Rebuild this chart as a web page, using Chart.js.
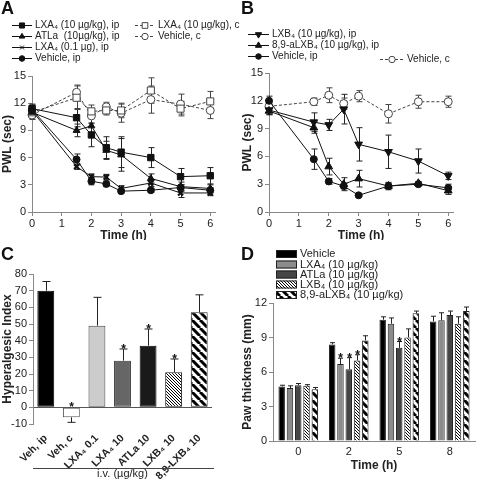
<!DOCTYPE html>
<html lang="en">
<head>
  <meta charset="UTF-8">
  <title>Lipoxins – hyperalgesia and paw edema</title>
  <script src="https://cdn.jsdelivr.net/npm/chart.js"></script>
  <style>
    body { margin: 0; width: 480px; height: 480px; position: relative; overflow: hidden; background: #fff;
           font-family: "Liberation Sans", Arial, sans-serif; }
    canvas { position: absolute; }
    .letra { position: absolute; font-weight: bold; font-size: 18px; color: #111; }
  </style>
</head>
<body>
  <canvas id="chartA" width="240" height="240" style="left:0;top:0"></canvas>
  <canvas id="chartB" width="240" height="240" style="left:240px;top:0"></canvas>
  <canvas id="chartC" width="240" height="240" style="left:0;top:240px"></canvas>
  <canvas id="chartD" width="240" height="240" style="left:240px;top:240px"></canvas>
  <div class="letra" style="left:1px;top:-2px">A</div>
  <div class="letra" style="left:241px;top:-2px">B</div>
  <div class="letra" style="left:1px;top:244px">C</div>
  <div class="letra" style="left:241px;top:244px">D</div>

  <script>
    // ---- datos ----
    const horas = [0, 1.5, 2, 2.5, 3, 4, 5, 6];
    const ticksTiempo = [0, 1, 2, 3, 4, 5, 6];
    const ticksPWL = [0, 3, 6, 9, 12, 15];

    // Panel A
    const aLxa4Ip      = [11.4, 10.4, 8.5, 7.1, 6.6, 6.0, 3.9, 4.0];
    const aLxa4IpErr   = [0.5, 1.0, 1.3, 1.2, 1.7, 1.1, 0.9, 0.9];
    const aAtlaIp      = [11.0, 9.0, 9.5, 6.8, 6.3, 3.7, 2.8, 2.6];
    const aAtlaIpErr   = [0.6, 0.7, 1.0, 1.0, 1.8, 0.5, 0.5, 0.4];
    const aLxa4Low     = [11.2, 5.0, 3.9, 3.85, 2.6, 3.2, 2.1, 2.1];
    const aLxa4LowErr  = [0.5, 0.3, 0.3, 0.3, 0.3, 0.4, 0.5, 0.3];
    const aVehIp       = [11.3, 5.8, 3.4, 3.1, 2.3, 2.4, 2.7, 2.4];
    const aVehIpErr    = [0.5, 0.6, 0.4, 0.3, 0.2, 0.2, 0.3, 0.3];
    const aLxa4C       = [11.0, 12.6, 11.1, 11.2, 11.2, 13.4, 11.4, 12.2];
    const aLxa4CErr    = [0.6, 1.3, 0.7, 0.5, 0.8, 1.4, 0.8, 1.1];
    const aVehC        = [10.7, 13.2, 10.6, 11.6, 10.9, 12.4, 11.9, 11.2];
    const aVehCErr     = [0.5, 0.8, 0.8, 0.5, 1.0, 1.5, 1.1, 0.9];

    // Panel B
    const bLxb4Ip      = [11.0, 9.7, 9.4, 11.1, 7.3, 6.5, 5.5, 3.9];
    const bLxb4IpErr   = [0.5, 1.0, 0.6, 1.6, 1.8, 1.8, 1.3, 0.4];
    const bAlxb4Ip     = [10.9, 9.1, 4.9, 3.0, 3.6, 2.8, 3.1, 2.3];
    const bAlxb4IpErr  = [0.4, 0.6, 0.9, 0.7, 0.9, 0.4, 0.2, 0.4];
    const bVehIp       = [12.0, 5.7, 3.3, 2.8, 1.8, 2.8, 3.0, 2.6];
    const bVehIpErr    = [0.5, 1.1, 0.3, 0.3, 0.1, 0.3, 0.2, 0.4];
    const bVehC        = [11.4, 11.9, 12.6, 11.7, 12.5, 10.6, 11.9, 11.9];
    const bVehCErr     = [0.4, 0.4, 0.8, 0.6, 0.6, 1.0, 0.7, 0.6];

    // Panel C
    const gruposC   = ['Veh, ip', 'Veh, c', 'LXA₄ 0.1', 'LXA₄ 10', 'ATLa 10', 'LXB₄ 10', '8,9-LXB₄ 10'];
    const indiceC   = [70, -6, 49, 28, 37, 21, 57];
    const indiceErr = [5.5, 3, 17, 7, 10, 8, 10.5];
    const signifC   = [false, true, false, true, true, true, false];
    const ticksIndice = [-10, 0, 10, 20, 30, 40, 50, 60, 70, 80];

    // Panel D
    const tiemposD  = ['0', '2', '5', '8'];
    const dVeh      = [4.75, 8.4, 10.55, 10.4];
    const dVehErr   = [0.1, 0.15, 0.25, 0.45];
    const dLxa4     = [4.6, 6.7, 10.2, 10.5];
    const dLxa4Err  = [0.2, 0.5, 0.5, 0.65];
    const dAtla     = [4.85, 6.25, 8.1, 10.95];
    const dAtlaErr  = [0.15, 1.0, 0.55, 0.35];
    const dLxb4     = [4.8, 7.0, 9.0, 10.2];
    const dLxb4Err  = [0.1, 0.5, 0.75, 0.6];
    const dAlxb4    = [4.5, 8.75, 11.1, 11.3];
    const dAlxb4Err = [0.15, 0.4, 0.2, 0.35];
    const signifLxa4 = [false, true, false, false];
    const signifAtla = [false, true, true, false];
    const signifLxb4 = [false, true, false, false];
    const ticksPata = [0, 3, 6, 9, 12];

    Chart.defaults.font.family = '"Liberation Sans", Arial, sans-serif';
    Chart.defaults.font.size = 11;
    Chart.defaults.color = '#222';
    Chart.defaults.animation = false;

    const gris = '#888';

    // rayado diagonal "\\\\" para las barras
    function rayado(paso, grosor) {
      const c = document.createElement('canvas');
      c.width = c.height = paso;
      const g = c.getContext('2d');
      g.fillStyle = '#fff';
      g.fillRect(0, 0, paso, paso);
      g.strokeStyle = '#000';
      g.lineWidth = grosor;
      g.beginPath();
      for (const k of [-1, 0, 1]) {
        g.moveTo(k * paso, 0);
        g.lineTo(k * paso + paso, paso);
      }
      g.stroke();
      return g.createPattern(c, 'repeat');
    }
    const rayaFina = rayado(3, 1);
    const rayaGruesa = rayado(8, 3);

    // barras de error y asteriscos
    function dibujarErrores(chart, tipo) {
      const ctx = chart.ctx;
      const cap = chart.options.plugins.barrasError.cap;
      chart.data.datasets.forEach((ds, i) => {
        if (!ds.errores) return;
        const meta = chart.getDatasetMeta(i);
        if (meta.type !== tipo) return;
        const ys = chart.scales[meta.yAxisID];
        ctx.save();
        ctx.strokeStyle = ds.colorError || '#222';
        ctx.lineWidth = 1;
        meta.data.forEach((el, j) => {
          const e = ds.errores[j];
          const raw = ds.data[j];
          const v = typeof raw === 'object' ? raw.y : raw;
          const px = Math.round(el.x) + 0.5;
          let a, b;
          if (tipo === 'bar') {
            a = ys.getPixelForValue(v);
            b = ys.getPixelForValue(v >= 0 ? v + e : v - e);
          } else {
            a = ys.getPixelForValue(v - e);
            b = ys.getPixelForValue(v + e);
          }
          ctx.beginPath();
          ctx.moveTo(px, a); ctx.lineTo(px, b);
          if (tipo === 'line') { ctx.moveTo(px - cap, a); ctx.lineTo(px + cap, a); }
          ctx.moveTo(px - cap, b); ctx.lineTo(px + cap, b);
          ctx.stroke();
          if (ds.signif && ds.signif[j]) {
            const arriba = ys.getPixelForValue(Math.max(v >= 0 ? v + e : 0, 0));
            ctx.fillStyle = '#111';
            ctx.font = 'bold 12px "Liberation Sans", Arial, sans-serif';
            ctx.textAlign = 'center';
            ctx.textBaseline = 'alphabetic';
            ctx.fillText('*', px, arriba + 4);
          }
        });
        ctx.restore();
      });
    }
    const barrasError = {
      id: 'barrasError',
      beforeDatasetsDraw(chart) { dibujarErrores(chart, 'line'); },
      afterDatasetsDraw(chart) { dibujarErrores(chart, 'bar'); }
    };

    // leyenda propia: línea + marcador, o caja
    const leyenda = {
      id: 'leyenda',
      afterDraw(chart, args, opts) {
        if (!opts.items) return;
        const ctx = chart.ctx;
        ctx.save();
        ctx.font = (opts.tam || 11) + 'px "Liberation Sans", Arial, sans-serif';
        ctx.textBaseline = 'middle';
        opts.items.forEach(it => {
          const ds = chart.data.datasets[it.ds];
          if (opts.tipo === 'caja') {
            ctx.fillStyle = ds.backgroundColor;
            ctx.fillRect(it.x, it.y - 4, 21, 8);
            ctx.strokeStyle = '#222';
            ctx.lineWidth = 1;
            ctx.strokeRect(it.x + 0.5, it.y - 3.5, 20, 7);
            ctx.fillStyle = '#222';
            ctx.fillText(ds.label, it.x + 24, it.y);
          } else {
            ctx.strokeStyle = ds.borderColor;
            ctx.lineWidth = 1;
            ctx.setLineDash(ds.borderDash || []);
            ctx.beginPath();
            ctx.moveTo(it.x, it.y + 0.5);
            ctx.lineTo(it.x + it.largo, it.y + 0.5);
            ctx.stroke();
            ctx.setLineDash([]);
            ctx.fillStyle = ds.pointBackgroundColor;
            ctx.strokeStyle = ds.pointBorderColor;
            Chart.helpers.drawPoint(ctx, {
              pointStyle: ds.pointStyle,
              rotation: ds.pointRotation || 0,
              radius: ds.pointRadius * 0.8,
              borderWidth: ds.pointBorderWidth
            }, it.x + it.largo / 2, it.y + 0.5);
            ctx.fillStyle = '#222';
            ctx.fillText(ds.label, it.x + it.largo + 3, it.y);
          }
        });
        ctx.restore();
      }
    };

    // línea de i.v. (µg/kg) en panel C
    const llaveIV = {
      id: 'llaveIV',
      afterDraw(chart, args, opts) {
        if (!opts.mostrar) return;
        const ctx = chart.ctx;
        const x = chart.scales.x;
        ctx.save();
        ctx.strokeStyle = '#444';
        ctx.lineWidth = 1;
        ctx.beginPath();
        ctx.moveTo(chart.chartArea.left, x.bottom - 11.5);
        ctx.lineTo(chart.chartArea.right + 2, x.bottom - 11.5);
        ctx.stroke();
        ctx.restore();
      }
    };

    function puntos(valores) {
      return horas.map((h, i) => ({ x: h, y: valores[i] }));
    }

    function serie(label, valores, errores, estilo) {
      return Object.assign({
        label: label,
        data: puntos(valores),
        errores: errores,
        borderColor: '#111',
        borderWidth: 1,
        pointBackgroundColor: '#111',
        pointBorderColor: '#111',
        pointBorderWidth: 1,
        pointRadius: 3.5,
        clip: false
      }, estilo);
    }

    function ejesPWL(anchoY) {
      return {
        x: {
          type: 'linear', min: 0, max: 6.16,
          afterBuildTicks: ax => { ax.ticks = ticksTiempo.map(v => ({ value: v })); },
          afterFit: ax => { ax.height = 28; },
          border: { color: gris },
          grid: { drawOnChartArea: false, tickLength: 4, tickColor: gris },
          ticks: { padding: 1, font: { size: 11 } },
          title: { display: true, text: 'Time (h)', font: { size: 12, weight: 'bold' }, padding: { top: 0, bottom: -3 } }
        },
        y: {
          min: 0, max: 15,
          afterBuildTicks: ax => { ax.ticks = ticksPWL.map(v => ({ value: v })); },
          afterFit: ax => { ax.width = anchoY; },
          border: { color: gris },
          grid: { drawOnChartArea: false, tickLength: 4, tickColor: gris },
          ticks: { padding: 2, font: { size: 11 } },
          title: { display: true, text: 'PWL (sec)', font: { size: 12, weight: 'bold' }, padding: { top: 0, bottom: 2 } }
        }
      };
    }

    // ---- Panel A ----
    const trazo = '#444';
    new Chart(document.getElementById('chartA'), {
      type: 'line',
      data: {
        datasets: [
          serie('LXA₄ (10 µg/kg), ip', aLxa4Ip, aLxa4IpErr, { pointStyle: 'rect', pointRadius: 4.5 }),
          serie('ATLa  (10µg/kg), ip', aAtlaIp, aAtlaIpErr, { pointStyle: 'triangle', pointRadius: 4 }),
          serie('LXA₄ (0.1 µg), ip', aLxa4Low, aLxa4LowErr, { pointStyle: 'crossRot', pointRadius: 3.5, pointBorderWidth: 2.2 }),
          serie('Vehicle, ip', aVehIp, aVehIpErr, { pointStyle: 'circle', pointRadius: 3.5 }),
          serie('LXA₄ (10 µg/kg), c', aLxa4C, aLxa4CErr, { pointStyle: 'rect', pointRadius: 5, borderColor: trazo, borderDash: [3, 2], pointBackgroundColor: '#fff', pointBorderColor: trazo, colorError: trazo }),
          serie('Vehicle, c', aVehC, aVehCErr, { pointStyle: 'circle', pointRadius: 4, borderColor: trazo, borderDash: [3, 2], pointBackgroundColor: '#fff', pointBorderColor: trazo, colorError: trazo })
        ]
      },
      options: {
        responsive: false,
        layout: { padding: { top: 76, right: 25, left: 0, bottom: 0 } },
        scales: ejesPWL(32),
        plugins: {
          legend: { display: false },
          tooltip: { enabled: false },
          barrasError: { cap: 3 },
          leyenda: {
            tam: 10,
            items: [
              { ds: 0, x: 12, y: 25, largo: 20 },
              { ds: 1, x: 12, y: 36, largo: 20 },
              { ds: 2, x: 12, y: 47, largo: 20 },
              { ds: 3, x: 12, y: 58, largo: 20 },
              { ds: 4, x: 135, y: 25, largo: 20 },
              { ds: 5, x: 135, y: 36, largo: 20 }
            ]
          }
        }
      },
      plugins: [barrasError, leyenda]
    });

    // ---- Panel B ----
    new Chart(document.getElementById('chartB'), {
      type: 'line',
      data: {
        datasets: [
          serie('LXB₄ (10 µg/kg), ip', bLxb4Ip, bLxb4IpErr, { pointStyle: 'triangle', pointRotation: 180, pointRadius: 4.5 }),
          serie('8,9-aLXB₄ (10 µg/kg), ip', bAlxb4Ip, bAlxb4IpErr, { pointStyle: 'triangle', pointRadius: 4.5 }),
          serie('Vehicle, ip', bVehIp, bVehIpErr, { pointStyle: 'circle', pointRadius: 3.5 }),
          serie('Vehicle, c', bVehC, bVehCErr, { pointStyle: 'circle', pointRadius: 4, borderColor: trazo, borderDash: [3, 2], pointBackgroundColor: '#fff', pointBorderColor: trazo, colorError: trazo })
        ]
      },
      options: {
        responsive: false,
        layout: { padding: { top: 73, right: 27, left: 0, bottom: 0 } },
        scales: ejesPWL(29),
        plugins: {
          legend: { display: false },
          tooltip: { enabled: false },
          barrasError: { cap: 3 },
          leyenda: {
            tam: 10,
            items: [
              { ds: 0, x: 8, y: 34, largo: 21 },
              { ds: 1, x: 8, y: 45, largo: 21 },
              { ds: 2, x: 8, y: 56, largo: 21 },
              { ds: 3, x: 140, y: 59, largo: 24 }
            ]
          }
        }
      },
      plugins: [barrasError, leyenda]
    });

    // ---- Panel C ----
    new Chart(document.getElementById('chartC'), {
      type: 'bar',
      data: {
        labels: gruposC,
        datasets: [{
          data: indiceC,
          errores: indiceErr,
          signif: signifC,
          backgroundColor: ['#000', '#fff', '#ccc', '#666', '#1a1a1a', rayaFina, rayaGruesa],
          borderColor: ['#000', '#555', '#444', '#333', '#000', '#222', '#222'],
          borderWidth: 1,
          borderSkipped: false,
          barPercentage: 0.66,
          categoryPercentage: 1
        }]
      },
      options: {
        responsive: false,
        layout: { padding: { top: 34, right: 28, left: 0, bottom: 0 } },
        scales: {
          x: {
            afterFit: ax => { ax.height = 56; },
            border: { display: false },
            grid: { display: false },
            ticks: { minRotation: 45, maxRotation: 45, padding: 0, font: { size: 10.5, weight: 'bold' } },
            title: { display: true, text: 'i.v. (µg/kg)', font: { size: 11 }, padding: { top: 0, bottom: -1 } }
          },
          y: {
            min: -10, max: 80,
            afterBuildTicks: ax => { ax.ticks = ticksIndice.map(v => ({ value: v })); },
            afterFit: ax => { ax.width = 33; },
            border: { color: gris },
            grid: {
              tickLength: 4, tickColor: gris,
              color: c => (c.tick && c.tick.value === 0 ? '#555' : 'transparent')
            },
            ticks: { padding: 2, font: { size: 11 } },
            title: { display: true, text: 'Hyperalgesic Index', font: { size: 12, weight: 'bold' }, padding: { top: 0, bottom: 1 } }
          }
        },
        plugins: {
          legend: { display: false },
          tooltip: { enabled: false },
          barrasError: { cap: 4 },
          llaveIV: { mostrar: true }
        }
      },
      plugins: [barrasError, llaveIV]
    });

    // ---- Panel D ----
    function barraD(label, valores, errores, fondo, signif) {
      return {
        label: label, data: valores, errores: errores, signif: signif,
        backgroundColor: fondo, borderColor: '#222', borderWidth: 1,
        barPercentage: 0.78, categoryPercentage: 0.82
      };
    }
    new Chart(document.getElementById('chartD'), {
      type: 'bar',
      data: {
        labels: tiemposD,
        datasets: [
          barraD('Vehicle', dVeh, dVehErr, '#000'),
          barraD('LXA₄ (10 µg/kg)', dLxa4, dLxa4Err, '#8c8c8c', signifLxa4),
          barraD('ATLa (10 µg/kg)', dAtla, dAtlaErr, '#454545', signifAtla),
          barraD('LXB₄ (10 µg/kg)', dLxb4, dLxb4Err, rayaFina, signifLxb4),
          barraD('8,9-aLXB₄ (10 µg/kg)', dAlxb4, dAlxb4Err, rayaGruesa)
        ]
      },
      options: {
        responsive: false,
        layout: { padding: { top: 63, right: 5, left: 0, bottom: 0 } },
        scales: {
          x: {
            afterFit: ax => { ax.height = 39; },
            border: { color: gris },
            grid: { display: false },
            ticks: { padding: -4, font: { size: 11 } },
            title: { display: true, text: 'Time (h)', font: { size: 12, weight: 'bold' }, padding: { top: 0, bottom: 7 } }
          },
          y: {
            min: 0, max: 12,
            afterBuildTicks: ax => { ax.ticks = ticksPata.map(v => ({ value: v })); },
            afterFit: ax => { ax.width = 33; },
            border: { color: gris },
            grid: { drawOnChartArea: false, tickLength: 4, tickColor: gris },
            ticks: { padding: 2, font: { size: 11 } },
            title: { display: true, text: 'Paw thickness (mm)', font: { size: 12, weight: 'bold' }, padding: { top: 0, bottom: 1 } }
          }
        },
        plugins: {
          legend: { display: false },
          tooltip: { enabled: false },
          barrasError: { cap: 2.5 },
          leyenda: {
            tipo: 'caja',
            items: [
              { ds: 0, x: 36, y: 14 },
              { ds: 1, x: 36, y: 24.5 },
              { ds: 2, x: 36, y: 34.5 },
              { ds: 3, x: 36, y: 44.5 },
              { ds: 4, x: 36, y: 55 }
            ]
          }
        }
      },
      plugins: [barrasError, leyenda]
    });
  </script>
</body>
</html>
